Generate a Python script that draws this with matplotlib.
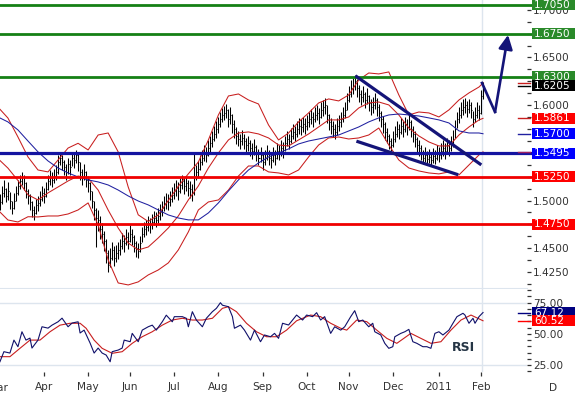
import numpy as np
import pandas as pd
import matplotlib
matplotlib.use("Agg")
import matplotlib.pyplot as plt
from matplotlib.patches import Rectangle
from matplotlib.lines import Line2D
from matplotlib.ticker import MultipleLocator, FixedLocator, FuncFormatter
from matplotlib.transforms import blended_transform_factory

# Daily bars, from 1 Mar 2010 (one value per trading day)
closes = [
    1.505, 1.498, 1.508, 1.512, 1.505, 1.510, 1.500, 1.492, 1.500, 1.508,
    1.515, 1.520, 1.525, 1.518, 1.510, 1.505, 1.498, 1.490, 1.487, 1.495,
    1.497, 1.502, 1.508, 1.505, 1.512, 1.520, 1.524, 1.522, 1.526, 1.530,
    1.540, 1.545, 1.540, 1.535, 1.530, 1.538, 1.535, 1.545, 1.542, 1.548,
    1.540, 1.530, 1.525, 1.530, 1.522, 1.518, 1.510, 1.500, 1.490, 1.482,
    1.480, 1.470, 1.465, 1.458, 1.445, 1.432, 1.440, 1.448, 1.440, 1.445,
    1.448, 1.452, 1.458, 1.455, 1.462, 1.458, 1.465, 1.462, 1.455, 1.450,
    1.447, 1.455, 1.465, 1.470, 1.472, 1.476, 1.474, 1.478, 1.482, 1.480,
    1.484, 1.488, 1.492, 1.497, 1.500, 1.498, 1.502, 1.506, 1.510, 1.513,
    1.510, 1.516, 1.520, 1.515, 1.518, 1.513, 1.512, 1.508, 1.525, 1.530,
    1.533, 1.540, 1.545, 1.550, 1.548, 1.555, 1.560, 1.565, 1.570, 1.575,
    1.580, 1.585, 1.590, 1.592, 1.595, 1.585, 1.590, 1.580, 1.575, 1.568,
    1.565, 1.562, 1.566, 1.562, 1.558, 1.560, 1.555, 1.552, 1.556, 1.550,
    1.545, 1.548, 1.540, 1.545, 1.550, 1.545, 1.542, 1.548, 1.545, 1.552,
    1.550, 1.555, 1.553, 1.560, 1.565, 1.562, 1.568, 1.572, 1.570, 1.575,
    1.578, 1.577, 1.580, 1.578, 1.582, 1.585, 1.588, 1.585, 1.590, 1.592,
    1.588, 1.595, 1.598, 1.600, 1.590, 1.582, 1.578, 1.575, 1.572, 1.578,
    1.582, 1.585, 1.590, 1.595, 1.605, 1.612, 1.618, 1.620, 1.625, 1.618,
    1.612, 1.608, 1.612, 1.605, 1.610, 1.602, 1.598, 1.600, 1.605, 1.598,
    1.592, 1.585, 1.580, 1.572, 1.568, 1.562, 1.558, 1.565, 1.570, 1.575,
    1.572, 1.578, 1.575, 1.580, 1.577, 1.582, 1.575, 1.570, 1.565, 1.558,
    1.555, 1.550, 1.545, 1.548, 1.544, 1.546, 1.542, 1.547, 1.545, 1.550,
    1.548, 1.552, 1.555, 1.552, 1.558, 1.555, 1.560, 1.565, 1.575, 1.585,
    1.590, 1.595, 1.598, 1.600, 1.596, 1.600, 1.595, 1.585, 1.590, 1.595,
    1.592, 1.610, 1.6205,
]
highs = [
    1.513, 1.507, 1.515, 1.522, 1.513, 1.519, 1.509, 1.500, 1.508, 1.515,
    1.522, 1.527, 1.530, 1.527, 1.519, 1.512, 1.507, 1.499, 1.494, 1.502,
    1.505, 1.510, 1.515, 1.513, 1.519, 1.527, 1.532, 1.530, 1.533, 1.537,
    1.548, 1.551, 1.548, 1.543, 1.538, 1.545, 1.543, 1.551, 1.550, 1.553,
    1.549, 1.540, 1.533, 1.538, 1.531, 1.526, 1.519, 1.510, 1.500, 1.492,
    1.490, 1.484, 1.476, 1.468, 1.460, 1.448, 1.450, 1.456, 1.452, 1.453,
    1.457, 1.460, 1.466, 1.464, 1.470, 1.467, 1.474, 1.470, 1.464, 1.458,
    1.455, 1.463, 1.472, 1.478, 1.480, 1.484, 1.482, 1.486, 1.489, 1.488,
    1.492, 1.496, 1.500, 1.505, 1.508, 1.507, 1.510, 1.514, 1.518, 1.521,
    1.519, 1.524, 1.527, 1.524, 1.526, 1.521, 1.520, 1.517, 1.550, 1.537,
    1.541, 1.548, 1.553, 1.558, 1.556, 1.563, 1.568, 1.573, 1.578, 1.583,
    1.588, 1.593, 1.597, 1.599, 1.601, 1.596, 1.598, 1.591, 1.584, 1.577,
    1.573, 1.570, 1.574, 1.570, 1.566, 1.568, 1.563, 1.560, 1.564, 1.558,
    1.554, 1.556, 1.549, 1.553, 1.558, 1.553, 1.550, 1.556, 1.553, 1.560,
    1.558, 1.563, 1.561, 1.568, 1.573, 1.570, 1.576, 1.580, 1.578, 1.583,
    1.586, 1.585, 1.588, 1.586, 1.590, 1.593, 1.596, 1.593, 1.598, 1.600,
    1.597, 1.603, 1.605, 1.607, 1.600, 1.591, 1.587, 1.583, 1.580, 1.586,
    1.590, 1.593, 1.598, 1.603, 1.613, 1.620, 1.626, 1.628, 1.632, 1.627,
    1.621, 1.616, 1.620, 1.614, 1.618, 1.611, 1.606, 1.608, 1.613, 1.607,
    1.601, 1.594, 1.589, 1.582, 1.576, 1.570, 1.566, 1.573, 1.578, 1.583,
    1.580, 1.586, 1.583, 1.588, 1.585, 1.590, 1.584, 1.578, 1.573, 1.567,
    1.563, 1.558, 1.553, 1.556, 1.552, 1.554, 1.550, 1.555, 1.553, 1.558,
    1.556, 1.560, 1.563, 1.560, 1.566, 1.563, 1.568, 1.574, 1.584, 1.593,
    1.598, 1.603, 1.606, 1.607, 1.604, 1.606, 1.603, 1.594, 1.598, 1.603,
    1.600, 1.616, 1.624,
]
lows = [
    1.497, 1.490, 1.496, 1.504, 1.498, 1.501, 1.491, 1.486, 1.491, 1.499,
    1.506, 1.512, 1.516, 1.511, 1.503, 1.496, 1.490, 1.483, 1.480, 1.486,
    1.489, 1.494, 1.500, 1.497, 1.504, 1.511, 1.516, 1.514, 1.518, 1.522,
    1.528, 1.537, 1.532, 1.527, 1.521, 1.528, 1.527, 1.536, 1.534, 1.539,
    1.531, 1.522, 1.516, 1.521, 1.514, 1.509, 1.501, 1.492, 1.480, 1.451,
    1.468, 1.460, 1.455, 1.447, 1.435, 1.425, 1.430, 1.438, 1.431, 1.436,
    1.439, 1.443, 1.449, 1.446, 1.453, 1.449, 1.456, 1.453, 1.446, 1.441,
    1.440, 1.446, 1.456, 1.462, 1.464, 1.468, 1.466, 1.470, 1.474, 1.472,
    1.476, 1.480, 1.484, 1.489, 1.491, 1.490, 1.494, 1.498, 1.502, 1.505,
    1.501, 1.508, 1.512, 1.507, 1.510, 1.505, 1.503, 1.500, 1.506, 1.521,
    1.524, 1.532, 1.537, 1.541, 1.540, 1.547, 1.551, 1.556, 1.562, 1.566,
    1.571, 1.577, 1.582, 1.584, 1.586, 1.577, 1.580, 1.571, 1.566, 1.559,
    1.557, 1.554, 1.558, 1.554, 1.550, 1.552, 1.547, 1.544, 1.548, 1.541,
    1.537, 1.540, 1.532, 1.537, 1.542, 1.537, 1.534, 1.540, 1.537, 1.544,
    1.542, 1.547, 1.545, 1.552, 1.557, 1.554, 1.560, 1.564, 1.562, 1.567,
    1.570, 1.569, 1.572, 1.570, 1.574, 1.577, 1.580, 1.577, 1.582, 1.584,
    1.580, 1.586, 1.589, 1.591, 1.581, 1.574, 1.570, 1.567, 1.565, 1.569,
    1.573, 1.577, 1.582, 1.587, 1.595, 1.603, 1.609, 1.612, 1.616, 1.609,
    1.603, 1.600, 1.603, 1.597, 1.601, 1.594, 1.590, 1.592, 1.596, 1.589,
    1.583, 1.577, 1.571, 1.563, 1.560, 1.554, 1.552, 1.556, 1.561, 1.567,
    1.564, 1.570, 1.567, 1.572, 1.569, 1.574, 1.567, 1.561, 1.556, 1.549,
    1.547, 1.542, 1.538, 1.540, 1.537, 1.539, 1.536, 1.539, 1.538, 1.542,
    1.540, 1.544, 1.547, 1.544, 1.550, 1.547, 1.552, 1.556, 1.566, 1.576,
    1.581, 1.587, 1.590, 1.592, 1.588, 1.592, 1.586, 1.577, 1.582, 1.587,
    1.584, 1.591, 1.606,
]

# Bollinger bands and moving average, read every 5 bars
band_idx = list(range(0, 241, 5)) + [242]
bb_upper = [1.598, 1.5865, 1.5666, 1.5457, 1.532, 1.530, 1.5425, 1.555, 1.560, 1.553,
            1.5687, 1.5708, 1.551, 1.5142, 1.485, 1.478, 1.485, 1.500, 1.515, 1.528,
            1.5404, 1.5635, 1.5897, 1.6096, 1.6117, 1.6054, 1.6012, 1.5792, 1.5635, 1.5708,
            1.5824, 1.5918, 1.6023, 1.6065, 1.6044, 1.6107, 1.6264, 1.6337, 1.6327, 1.6348,
            1.6107, 1.5897, 1.5928, 1.5918, 1.5876, 1.595, 1.6054, 1.6128, 1.619, 1.6232]
bb_mid = [1.544, 1.534, 1.521, 1.506, 1.5006, 1.508, 1.5142, 1.5205, 1.5257, 1.5236,
          1.511, 1.490, 1.4712, 1.4555, 1.4482, 1.4513, 1.4608, 1.4712, 1.4838, 1.5006,
          1.5153, 1.5341, 1.5499, 1.5635, 1.5708, 1.5719, 1.5698, 1.5656, 1.5582, 1.5572,
          1.5635, 1.5698, 1.5771, 1.5845, 1.5845, 1.5876, 1.597, 1.6023, 1.6033, 1.6002,
          1.5897, 1.576, 1.5677, 1.5614, 1.5572, 1.5572, 1.5687, 1.5771, 1.5845, 1.5861]
bb_lower = [1.4901, 1.4796, 1.4775, 1.483, 1.4828, 1.4838, 1.4838, 1.4859, 1.4901, 1.4975,
            1.4744, 1.4377, 1.4136, 1.4115, 1.4147, 1.422, 1.4272, 1.4346, 1.4482, 1.4671,
            1.4901, 1.4985, 1.5006, 1.511, 1.5257, 1.5362, 1.5362, 1.530, 1.5289, 1.5268,
            1.532, 1.5457, 1.5582, 1.5656, 1.5666, 1.5645, 1.5656, 1.5687, 1.576, 1.5582,
            1.5425, 1.5341, 1.531, 1.5289, 1.5279, 1.530, 1.5268, 1.5373, 1.5478, 1.551]
ma_blue = [1.5876, 1.5824, 1.574, 1.5624, 1.551, 1.5415, 1.5341, 1.5289, 1.5247, 1.5216,
           1.5195, 1.5163, 1.511, 1.5048, 1.4995, 1.4954, 1.4901, 1.4849, 1.4817, 1.4797,
           1.4797, 1.487, 1.4975, 1.51, 1.5216, 1.532, 1.5394, 1.5457, 1.5499, 1.5541,
           1.5593, 1.5624, 1.5645, 1.5666, 1.5687, 1.5729, 1.5771, 1.5824, 1.5866, 1.5897,
           1.5907, 1.5897, 1.5886, 1.5866, 1.5845, 1.5813, 1.573, 1.5708, 1.5708, 1.570]

# RSI and its average
rsi_idx = [1, 3, 6, 8, 10, 12, 14, 16, 17, 20, 22, 25, 27, 30, 32, 35, 37, 40, 41, 43,
           46, 48, 50, 52, 54, 56, 57, 60, 62, 63, 66, 67, 70, 72, 75, 77, 79, 82, 84, 87,
           88, 92, 94, 95, 97, 99, 102, 104, 107, 109, 111, 112, 115, 117, 118, 121, 123,
           126, 128, 131, 133, 136, 138, 140, 142, 145, 147, 149, 152, 154, 157, 159, 161,
           163, 166, 168, 171, 173, 176, 178, 180, 182, 185, 187, 188, 191, 193, 195, 197,
           198, 201, 203, 205, 207, 209, 212, 214, 216, 218, 220, 222, 225, 227, 229, 232,
           233, 235, 237, 238, 240, 242]
rsi_val = [27.6, 35.7, 34.6, 45.0, 39.7, 51.7, 45.0, 46.6, 38.6, 45.0, 55.7, 54.6, 57.0,
           59.7, 62.6, 55.7, 58.7, 59.7, 50.7, 53.0, 42.6, 34.6, 38.6, 34.6, 33.0, 27.6,
           35.7, 37.0, 38.6, 45.0, 43.7, 50.4, 43.7, 53.0, 55.7, 57.0, 53.0, 59.7, 65.0,
           59.7, 63.8, 63.8, 62.5, 55.7, 67.8, 61.1, 55.7, 62.5, 67.8, 70.5, 75.0, 73.0,
           71.8, 63.8, 54.5, 57.0, 53.0, 45.0, 53.0, 43.7, 49.1, 47.7, 50.4, 46.4, 58.5,
           57.1, 61.1, 65.1, 61.1, 65.1, 63.8, 67.0, 61.1, 63.8, 50.4, 55.7, 53.0, 55.7,
           63.8, 68.6, 59.8, 61.1, 55.7, 58.5, 51.7, 49.1, 42.4, 38.4, 39.7, 47.7, 50.4,
           51.7, 53.6, 43.7, 42.4, 39.7, 39.7, 38.4, 50.4, 51.7, 49.1, 53.0, 58.5, 63.8,
           66.5, 65.1, 58.5, 62.5, 58.5, 63.8, 67.12]
rsi_ma_idx = [1, 6, 11, 16, 21, 26, 31, 36, 41, 44, 48, 52, 57, 62, 67, 72, 77, 82, 87, 92,
              97, 102, 107, 112, 115, 119, 124, 129, 134, 139, 144, 149, 156, 161, 166,
              171, 174, 179, 184, 189, 194, 199, 206, 211, 216, 221, 226, 231, 236, 242]
rsi_ma_val = [31.7, 31.7, 38.4, 45.0, 45.0, 51.7, 57.0, 58.5, 58.5, 54.5, 45.0, 38.4, 34.4,
              35.7, 42.4, 47.7, 51.7, 57.0, 61.1, 62.5, 61.1, 61.1, 62.5, 70.5, 71.8, 67.8,
              58.5, 51.7, 47.7, 47.7, 53.0, 60.5, 65.1, 63.8, 58.5, 54.5, 53.0, 61.1, 59.8,
              53.0, 46.4, 42.4, 50.4, 46.4, 42.4, 43.7, 53.0, 61.1, 65.1, 60.52]

# levels, trend lines, projection
levels_green = [1.7050, 1.6750, 1.6300]
levels_blue = [1.5495]
levels_red = [1.5250, 1.4750]
trend_hi_x, trend_hi_y = [179.0, 240.5], [1.6298, 1.5383]
trend_lo_x, trend_lo_y = [179.6, 228.9], [1.5617, 1.5275]
arrow_x, arrow_y = [241.5, 248.0, 254.5], [1.6232, 1.5928, 1.6736]

GREEN, RED, BLUE, NAVY = "#2a8a2a", "#ff0000", "#0000ff", "#000080"
price_tags = [(1.7050, "1.7050", GREEN), (1.6750, "1.6750", GREEN), (1.6300, "1.6300", GREEN),
              (1.6205, "1.6205", "#000000"), (1.5861, "1.5861", RED), (1.5700, "1.5700", BLUE),
              (1.5495, "1.5495", BLUE), (1.5250, "1.5250", RED), (1.4750, "1.4750", RED)]
price_marks = [(1.6232, "#c81e1e"), (1.6205, "#000000"), (1.5861, "#c81e1e"),
               (1.5700, "#2020a0"), (1.5510, "#a02060")]
rsi_tags = [(67.12, "67.12", NAVY), (60.52, "60.52", RED)]

dates = pd.bdate_range("2010-03-01", periods=len(closes))
idx = np.arange(len(closes))
month_pos = [i for i in range(1, len(dates)) if dates[i].month != dates[i - 1].month]
month_lab = ["2011" if dates[i].month == 1 else dates[i].strftime("%b") for i in month_pos]

W, H = 575.0, 393.0
TXT = "#333333"
LIGHT = "#dde5ee"
FS = 7.6


def rect(l, t, r, b):
    return [l / W, 1 - b / H, (r - l) / W, (b - t) / H]


fig = plt.figure(figsize=(5.75, 3.93), dpi=100)
ax = fig.add_axes(rect(0, 0, 527, 288))
axr = fig.add_axes(rect(0, 289, 527, 372))

for a in (ax, axr):
    a.set_xlim(2.1 / 2.0046, (527 + 2.1) / 2.0046)
    for s in a.spines.values():
        s.set_visible(False)
    a.yaxis.tick_right()
    a.tick_params(axis="y", which="both", direction="out", colors=TXT,
                  labelsize=FS, pad=1.5, length=2.9, width=0.9)

# price panel
ax.set_ylim(1.4083, 1.7102)
ax.yaxis.set_major_locator(MultipleLocator(0.025))
ax.yaxis.set_minor_locator(MultipleLocator(0.0125))
ax.yaxis.set_major_formatter(FuncFormatter(
    lambda v, p: "" if abs(v - 1.575) < 1e-6 else "%.4f" % v))
ax.tick_params(axis="x", bottom=False, labelbottom=False)
ax.spines["bottom"].set_visible(True)
ax.spines["bottom"].set_color(LIGHT)
ax.axvline(241.5, color=LIGHT, lw=1, zorder=0)

ax.vlines(idx, lows, highs, color="black", lw=0.75, zorder=2)
ax.hlines(closes, idx, idx + 0.5, color="black", lw=0.75, zorder=2)

ax.plot(band_idx, bb_upper, color="#c81e1e", lw=0.75, zorder=3)
ax.plot(band_idx, bb_mid, color="#c81e1e", lw=0.75, zorder=3)
ax.plot(band_idx, bb_lower, color="#c81e1e", lw=0.75, zorder=3)
ax.plot(band_idx, ma_blue, color="#2020a0", lw=0.75, zorder=3)

for y in levels_green:
    ax.axhline(y, xmax=531 / 527, color="#158015", lw=2, clip_on=False, zorder=4)
for y in levels_blue:
    ax.axhline(y, xmax=531 / 527, color="#1414a0", lw=2.3, clip_on=False, zorder=4)
for y in levels_red:
    ax.axhline(y, xmax=531 / 527, color="#f00000", lw=2, clip_on=False, zorder=4)

ax.plot(trend_hi_x, trend_hi_y, color="#141478", lw=2.3, zorder=5)
ax.plot(trend_lo_x, trend_lo_y, color="#141478", lw=2.3, zorder=5)
ax.plot(arrow_x[:2], arrow_y[:2], color="#141478", lw=1.9, zorder=5)
ax.annotate("", xy=(arrow_x[2], arrow_y[2]), xytext=(arrow_x[1], arrow_y[1]),
            arrowprops=dict(arrowstyle="-|>,head_length=0.6,head_width=0.3",
                            color="#141478", lw=1.9, mutation_scale=14,
                            shrinkA=0, shrinkB=0), zorder=5)

# RSI panel
axr.set_ylim(19.4, 86.0)
axr.yaxis.set_major_locator(FixedLocator([25, 50, 75]))
axr.yaxis.set_minor_locator(MultipleLocator(5))
axr.yaxis.set_major_formatter(FuncFormatter(lambda v, p: "%.2f" % v))
axr.axhline(75, color=LIGHT, lw=1, zorder=0)
axr.axhline(25, color=LIGHT, lw=1, zorder=0)
axr.axvline(241.5, color=LIGHT, lw=1, zorder=0)
axr.plot(rsi_ma_idx, rsi_ma_val, color="#c81e1e", lw=0.8)
axr.plot(rsi_idx, rsi_val, color="#10106a", lw=0.8)
axr.text(232, 39.4, "RSI", fontsize=9, fontweight="bold", color="#253545",
         ha="center", va="center")

axr.set_xticks(month_pos)
axr.set_xticklabels(month_lab)
axr.tick_params(axis="x", direction="out", length=2.9, width=0.9, colors=TXT,
                labelsize=FS, pad=4.5)
fig.text(-2.1 / W, 1 - 388 / H, "Mar", fontsize=FS, color=TXT, ha="center", va="center")
fig.text(553 / W, 1 - 388 / H, "D", fontsize=FS, color=TXT, ha="center", va="center")

# value tags on the right
tp = blended_transform_factory(fig.transFigure, ax.transData)
tr = blended_transform_factory(fig.transFigure, axr.transData)
for v, c in price_marks:
    fig.add_artist(Line2D([518 / W, 530 / W], [v, v], transform=tp, color=c, lw=1))
fig.add_artist(Line2D([518 / W, 530 / W], [67.12, 67.12], transform=tr, color=NAVY, lw=1))
fig.add_artist(Line2D([518 / W, 530 / W], [60.52, 60.52], transform=tr, color=RED, lw=1))

for tags, trans, hh in ((price_tags, tp, 5.3 / 954), (rsi_tags, tr, 5.3 / 1.246)):
    for v, s, c in tags:
        fig.add_artist(Rectangle((532 / W, v - hh), 43 / W, 2 * hh, transform=trans,
                                 facecolor=c, edgecolor="none", zorder=6))
        fig.text(534 / W, v, s, transform=trans, color="white", fontsize=FS,
                 ha="left", va="center", zorder=7)

fig.savefig("out.png", dpi=100)
